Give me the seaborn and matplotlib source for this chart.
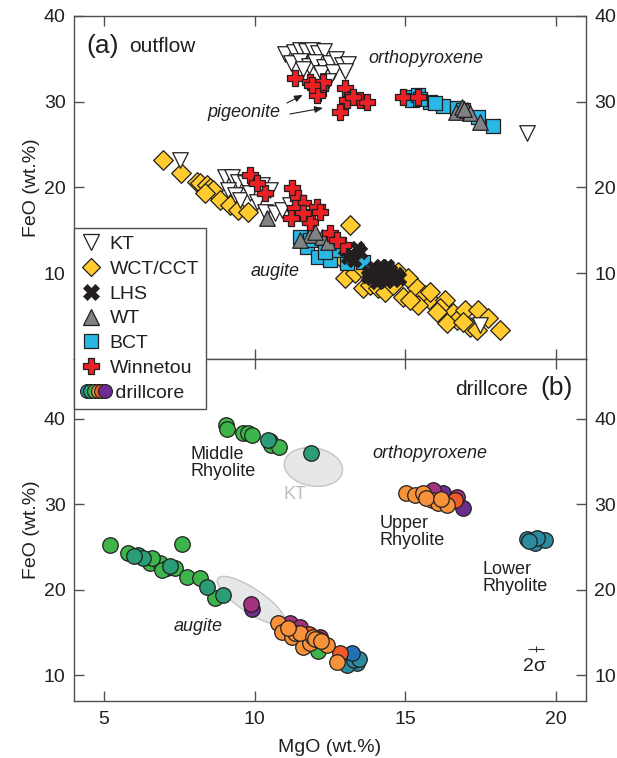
import numpy as np
import pandas as pd
import matplotlib
matplotlib.use("Agg")
import matplotlib.pyplot as plt
import seaborn as sns
from matplotlib.lines import Line2D
from matplotlib.legend_handler import HandlerBase

sns.set_style("white")
plt.rcParams['font.family'] = ['Liberation Sans', 'DejaVu Sans']

# ---------------- data: (a) outflow ----------------
kt_mgo = [11.0, 11.3, 11.5, 11.7, 11.9, 12.1, 12.3, 11.2, 11.5, 11.8, 12.0, 12.3, 12.5, 12.7,
          12.9, 13.1, 12.2, 12.6, 13.0, 11.6, 12.45, 19.05, 7.52,
          9.01, 9.25, 9.44, 9.68, 9.11, 9.35, 9.51, 9.84, 10.08, 10.34, 10.67, 10.9,
          10.24, 10.5, 11.17, 11.5, 17.48]
kt_feo = [35.6, 35.8, 36.0, 35.9, 36.0, 35.7, 35.9, 34.5, 34.8, 34.2, 34.6, 34.1, 34.5, 35.0,
          34.3, 34.4, 33.3, 33.5, 33.6, 33.8, 32.4, 26.4, 23.2,
          21.2, 21.2, 20.6, 20.5, 19.7, 19.1, 18.5, 19.4, 18.3, 17.1, 17.0, 17.4,
          20.3, 19.7, 18.0, 17.4, 4.0]

wct_mgo = [6.95, 7.55, 8.08, 8.18, 8.42, 8.52, 8.62, 8.35, 8.85, 9.18, 9.45, 9.78, 13.16, 12.83,
           13.0, 13.33, 13.6, 13.56, 13.83, 14.09, 14.33, 14.59, 14.76, 15.09, 14.92, 15.39,
           15.65, 15.89, 16.32, 16.15, 16.58, 16.72, 16.98, 17.15, 17.41, 17.75, 18.14, 16.38,
           15.42, 15.16, 15.82, 16.05, 16.92, 17.38, 14.49, 14.16]
wct_feo = [23.2, 21.7, 20.6, 20.5, 20.3, 19.9, 19.7, 19.4, 18.5, 18.0, 17.4, 17.1, 15.6, 11.9,
           9.45, 10.0, 8.3, 10.6, 8.6, 8.3, 7.8, 8.6, 10.15, 9.45, 7.2, 8.3,
           7.45, 6.65, 6.9, 5.95, 5.35, 4.55, 5.7, 3.75, 5.7, 4.8, 3.4, 4.2,
           6.3, 6.9, 7.8, 5.5, 4.3, 3.4, 10.0, 9.55]

lhs_mgo = [13.0, 13.2, 13.4, 13.3, 13.1, 13.5, 13.8, 14.0, 14.1, 14.2, 14.3, 14.4, 14.5, 14.6,
           14.7, 13.9, 14.2, 14.8, 14.05, 14.4, 13.95, 14.35, 14.55, 13.75]
lhs_feo = [12.8, 12.2, 13.0, 11.6, 11.9, 12.5, 10.2, 9.8, 10.5, 9.3, 10.0, 9.6, 10.3, 9.2,
           9.9, 9.4, 10.9, 9.5, 9.0, 10.8, 10.6, 9.1, 9.7, 9.7]

wt_mgo = [16.68, 16.88, 17.05, 17.15, 17.48, 16.95, 10.4, 11.84, 12.23, 11.5, 12.0, 12.43]
wt_feo = [28.8, 29.4, 29.0, 28.7, 27.6, 29.2, 16.5, 14.5, 14.2, 13.9, 14.8, 13.6]

bct_mgo = [15.06, 15.22, 15.42, 15.82, 16.25, 16.72, 16.92, 17.41, 17.91, 15.5, 16.0,
           11.5, 11.74, 12.1, 12.5, 13.06, 12.73, 13.6, 11.84, 12.33]
bct_feo = [30.55, 30.2, 30.8, 29.97, 29.5, 29.27, 29.03, 28.2, 27.17, 30.3, 29.8,
           14.2, 13.06, 11.9, 11.55, 11.2, 12.7, 11.3, 13.9, 12.5]

win_mgo = [11.34, 11.84, 12.17, 12.1, 12.27, 13.0, 13.06, 13.5, 13.73, 12.83, 12.07, 14.92,
           15.42, 13.25, 11.9,
           9.84, 11.24, 11.44, 11.6, 12.07, 11.34, 11.74, 11.84, 10.34, 10.08, 12.5, 12.93,
           12.73, 12.17, 11.6, 11.2]
win_feo = [32.8, 32.3, 31.6, 31.0, 32.3, 31.6, 30.2, 30.2, 30.0, 28.8, 30.8, 30.55,
           30.55, 30.5, 31.9,
           21.45, 19.94, 18.8, 18.2, 17.7, 17.6, 16.6, 16.0, 19.4, 20.5, 14.7, 13.3,
           13.9, 17.1, 17.0, 16.5]

# ---------------- data: (b) drillcore ----------------
purple_mgo = [9.91, 16.25, 16.92]
purple_feo = [17.8, 31.33, 29.57]
magenta_mgo = [9.88, 11.17, 12.17, 15.92, 16.72, 11.5]
magenta_feo = [18.3, 16.1, 14.5, 31.7, 30.86, 15.6]
teal_mgo = [19.04, 19.31, 19.64, 19.37, 19.1, 13.16, 13.4, 13.06, 13.3, 13.45]
teal_feo = [25.95, 25.5, 25.83, 26.06, 25.7, 12.15, 11.4, 11.2, 11.8, 11.9]
blue_mgo = [13.23]
blue_feo = [12.6]
green_mgo = [9.05, 9.08, 9.6, 9.78, 9.92, 10.5, 10.55, 10.82,
             5.2, 7.6, 5.8, 6.52, 6.85, 7.08, 7.35, 6.92, 7.75, 8.18, 8.68, 6.6, 12.1]
green_feo = [39.3, 38.8, 38.4, 38.3, 38.1, 37.4, 36.9, 36.7,
             25.25, 25.4, 24.27, 23.1, 23.1, 22.55, 22.55, 22.3, 21.5, 21.4, 19.05, 23.7, 12.8]
tgreen_mgo = [11.87, 10.45, 6.12, 6.3, 8.42, 8.95, 7.2, 6.0]
tgreen_feo = [36.0, 37.5, 24.1, 23.7, 20.3, 19.4, 22.8, 24.0]
redor_mgo = [12.83, 11.8, 16.65, 12.1]
redor_feo = [12.6, 14.8, 30.5, 14.3]
orange_mgo = [10.77, 10.9, 11.24, 11.35, 11.6, 11.84, 12.4, 12.73, 11.5, 11.94, 11.1, 12.0, 12.2,
              15.02, 15.32, 15.59, 15.89, 16.08, 16.38, 15.7, 16.2]
orange_feo = [16.1, 15.1, 14.5, 15.0, 13.3, 13.8, 13.55, 11.56, 14.96, 14.5, 15.5, 14.2, 14.0,
              31.33, 31.1, 31.33, 30.5, 30.15, 29.9, 30.8, 30.6]

legend_labels = ["KT", "WCT/CCT", "LHS", "WT", "BCT", "Winnetou", " drillcore"]

EDGE = '#231f20'
TXT = '#231f20'
FRAME = '#505050'

fig = plt.figure(figsize=(6.17, 7.58), dpi=100)
ax1 = fig.add_axes([0.1199, 0.5264, 0.8298, 0.4525])
ax2 = fig.add_axes([0.1199, 0.0752, 0.8298, 0.4512])


def sc(ax, x, y, color, marker, s, z, ec=EDGE, lw=0.9):
    df = pd.DataFrame({'x': x, 'y': y})
    sns.scatterplot(data=df, x='x', y='y', ax=ax, color=color, marker=marker, s=s,
                    edgecolor=ec, linewidth=lw, zorder=z, legend=False)


# ----- panel a -----
sc(ax1, wct_mgo, wct_feo, '#FFCB2F', 'D', 100, 3)
sc(ax1, bct_mgo, bct_feo, '#29B8E5', 's', 115, 4)
sc(ax1, kt_mgo, kt_feo, 'white', 'v', 125, 5)
sc(ax1, wt_mgo, wt_feo, '#808285', '^', 125, 6)
sc(ax1, lhs_mgo, lhs_feo, '#231f20', 'X', 110, 7, ec='#231f20', lw=0.5)
sc(ax1, win_mgo, win_feo, '#ED2024', 'P', 125, 8)

# ----- panel b -----
def ell(ax, c, a, b, **kw):
    t = np.linspace(0, 2 * np.pi, 200)
    xs = c[0] + a[0] * np.cos(t) + b[0] * np.sin(t)
    ys = c[1] + a[1] * np.cos(t) + b[1] * np.sin(t)
    ax.fill(xs, ys, **kw)

ell(ax2, (11.95, 34.37), (0.96, -0.58), (-0.11, -2.19), facecolor='#e6e7e8',
    edgecolor='#c4c4c4', lw=1.0, zorder=1)
ell(ax2, (9.88, 18.75), (1.10, -2.57), (-0.22, -1.17), facecolor='#e6e7e8',
    edgecolor='#c4c4c4', lw=1.0, zorder=1)

cs = 125
sc(ax2, purple_mgo, purple_feo, '#6B2D90', 'o', cs, 3)
sc(ax2, magenta_mgo, magenta_feo, '#A3317E', 'o', cs, 4)
sc(ax2, teal_mgo, teal_feo, '#2A8C9E', 'o', cs, 5)
sc(ax2, blue_mgo, blue_feo, '#2271B2', 'o', cs, 5)
sc(ax2, green_mgo, green_feo, '#3DB54A', 'o', cs, 6)
sc(ax2, tgreen_mgo, tgreen_feo, '#2A9D78', 'o', cs, 6)
sc(ax2, redor_mgo, redor_feo, '#F15A29', 'o', cs, 7)
sc(ax2, orange_mgo, orange_feo, '#F7923A', 'o', cs, 8)

# error bar 2 sigma
ax2.errorbar([19.35], [13.05], xerr=[0.27], yerr=[0.35], fmt='none', ecolor='#333333',
             elinewidth=0.8, capsize=0, zorder=9)
ax2.text(19.3, 11.0, '2σ', fontsize=14, color=TXT, ha='center', va='center')

# ----- axes formatting -----
for ax, ylim in ((ax1, (0, 40)), (ax2, (7, 47))):
    ax.set_xlim(4, 21)
    ax.set_ylim(*ylim)
    ax.set_xticks([5, 10, 15, 20])
    ax.set_yticks([10, 20, 30, 40])
    ax.set_xlabel('')
    ax.set_ylabel('FeO (wt.%)', fontsize=14, color=TXT)
    for sp in ax.spines.values():
        sp.set_visible(True)
        sp.set_color(FRAME)
        sp.set_linewidth(1.0)
    ax.tick_params(axis='both', direction='in', length=7, width=1.0, color=FRAME,
                   labelsize=14, labelcolor=TXT, top=True, right=True, left=True, bottom=True)
    ax.tick_params(axis='y', labelright=True, labelleft=True, pad=6)

ax1.tick_params(axis='x', labelbottom=False)
ax2.tick_params(axis='x', pad=7)
ax2.set_xlabel('MgO (wt.%)', fontsize=14, color=TXT, labelpad=8)
ax1.yaxis.set_label_coords(-0.066, 0.5)
ax2.yaxis.set_label_coords(-0.066, 0.5)

# ----- annotations panel a -----
ax1.text(4.4, 36.5, '(a)', fontsize=19, color=TXT, ha='left', va='center')
ax1.text(5.83, 36.5, 'outflow', fontsize=15, color=TXT, ha='left', va='center')
ax1.text(15.69, 35.0, 'orthopyroxene', fontsize=13, style='italic', color=TXT,
         ha='center', va='center')
ax1.text(9.64, 28.7, 'pigeonite', fontsize=13, style='italic', color=TXT,
         ha='center', va='center')
ax1.text(10.67, 10.15, 'augite', fontsize=13, style='italic', color=TXT,
         ha='center', va='center')
arrow_kw = dict(arrowstyle='-|>,head_length=0.5,head_width=0.2', color=TXT, lw=0.8,
                shrinkA=0, shrinkB=0)
ax1.annotate('', xy=(11.6, 30.8), xytext=(11.07, 29.85), arrowprops=arrow_kw, zorder=10)
ax1.annotate('', xy=(12.27, 29.27), xytext=(11.17, 28.57), arrowprops=arrow_kw, zorder=10)

# ----- annotations panel b -----
ax2.text(19.07, 43.4, 'drillcore', fontsize=15, color=TXT, ha='right', va='center')
ax2.text(19.47, 43.6, '(b)', fontsize=19, color=TXT, ha='left', va='center')
ax2.text(7.88, 34.84, 'Middle\nRhyolite', fontsize=13, color=TXT, ha='left', va='center',
         linespacing=0.95)
ax2.text(15.82, 35.9, 'orthopyroxene', fontsize=13, style='italic', color=TXT,
         ha='center', va='center')
ax2.text(14.16, 26.77, 'Upper\nRhyolite', fontsize=13, color=TXT, ha='left', va='center',
         linespacing=0.95)
ax2.text(17.55, 21.4, 'Lower\nRhyolite', fontsize=13, color=TXT, ha='left', va='center',
         linespacing=0.95)
ax2.text(8.12, 15.77, 'augite', fontsize=13, style='italic', color=TXT,
         ha='center', va='center')
ax2.text(11.34, 31.1, 'KT', fontsize=13, color='#bdbdbd', ha='center', va='center')

# ----- legend -----
class DrillProxy:
    def __init__(self, colors):
        self.colors = colors


class DrillHandler(HandlerBase):
    def create_artists(self, legend, orig_handle, xdescent, ydescent, width, height,
                       fontsize, trans):
        cols = orig_handle.colors
        xs = np.linspace(-xdescent + 0.28 * width, -xdescent + 1.2 * width, len(cols))
        y = -ydescent + height / 2
        arts = []
        for x, c in zip(xs, cols):
            arts.append(Line2D([x], [y], marker='o', markersize=10, markerfacecolor=c,
                               markeredgecolor=EDGE, markeredgewidth=0.8, linestyle='none',
                               transform=trans))
        return arts


handles = [
    Line2D([], [], marker='v', color='none', markerfacecolor='white', markeredgecolor=EDGE,
           markersize=11, markeredgewidth=0.9),
    Line2D([], [], marker='D', color='none', markerfacecolor='#FFCB2F', markeredgecolor=EDGE,
           markersize=9.5, markeredgewidth=0.9),
    Line2D([], [], marker='X', color='none', markerfacecolor='#231f20', markeredgecolor='#231f20',
           markersize=11, markeredgewidth=0.5),
    Line2D([], [], marker='^', color='none', markerfacecolor='#808285', markeredgecolor=EDGE,
           markersize=11, markeredgewidth=0.9),
    Line2D([], [], marker='s', color='none', markerfacecolor='#29B8E5', markeredgecolor=EDGE,
           markersize=10, markeredgewidth=0.9),
    Line2D([], [], marker='P', color='none', markerfacecolor='#ED2024', markeredgecolor=EDGE,
           markersize=11, markeredgewidth=0.9),
    DrillProxy(['#2A8C9E', '#2A9D78', '#3DB54A', '#F7923A', '#F15A29', '#6B2D90']),
]
leg = fig.legend(handles, legend_labels, loc='upper left', bbox_to_anchor=(0.1199, 0.6992),
                 bbox_transform=fig.transFigure, borderaxespad=0, frameon=True, fancybox=False,
                 edgecolor=FRAME, framealpha=1, fontsize=14, handlelength=1.0,
                 handletextpad=0.45, labelspacing=0.37, borderpad=0.38,
                 handler_map={DrillProxy: DrillHandler()})
leg.get_frame().set_linewidth(1.0)
for t in leg.get_texts():
    t.set_color(TXT)

fig.savefig('out.png', dpi=100)
